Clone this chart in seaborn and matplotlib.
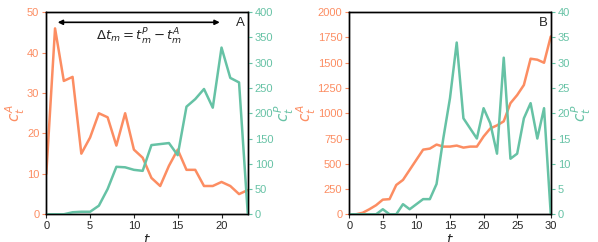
import numpy as np
import pandas as pd
import matplotlib
matplotlib.use("Agg")
import matplotlib.pyplot as plt
import seaborn as sns

sns.set_style("ticks")
plt.rcParams["font.family"] = ["Liberation Sans", "DejaVu Sans"]
plt.rcParams["mathtext.fontset"] = "dejavusans"

orange = "#fc8d62"
green = "#66c2a5"

# panel A
t_a = list(range(24))
ca_a = [10, 46, 33, 34, 15, 19, 25, 24, 17, 25, 16, 14, 9, 7, 12, 16,
        11, 11, 7, 7, 8, 7, 5, 6]
cp_a = [0, 0, 0, 4, 5, 5, 17, 50, 94, 93, 88, 86, 137, 139, 141, 117,
        213, 228, 248, 211, 330, 270, 261, 0]

# panel B
t_b = list(range(31))
ca_b = [0, 0, 15, 50, 90, 145, 150, 290, 340, 440, 540, 640, 650, 690, 670,
        670, 680, 660, 670, 670, 770, 850, 880, 920, 1100, 1180, 1280, 1540,
        1530, 1500, 1760]
cp_b = [0, 0, 0, 0, 0, 1, 0, 0, 2, 1, 2, 3, 3, 6, 15, 23, 34, 19, 17, 15,
        21, 18, 12, 31, 11, 12, 19, 22, 15, 21, 0]

panels = [
    ("A", t_a, ca_a, cp_a, 23, 50, 400, [0, 5, 10, 15, 20]),
    ("B", t_b, ca_b, cp_b, 30, 2000, 40, [0, 5, 10, 15, 20, 25, 30]),
]

fig = plt.figure(figsize=(5.98, 2.42), dpi=100)
lefts = [0.0774, 0.584]

for (lab, t, ca, cp, xmax, ya, yp, xt), left in zip(panels, lefts):
    ax = fig.add_axes([left, 0.1145, 0.337, 0.835])
    ax2 = ax.twinx()
    sns.lineplot(x=t, y=ca, ax=ax, color=orange, lw=1.8)
    sns.lineplot(x=t, y=cp, ax=ax2, color=green, lw=1.8)
    ax.set_xlim(0, xmax)
    ax.set_ylim(0, ya)
    ax2.set_ylim(0, yp)
    ax.set_xticks(xt)
    ax.set_xlabel("$t$", fontsize=10, labelpad=1)
    ax.set_ylabel("$c_t^A$", color=orange, fontsize=11, labelpad=0)
    ax2.set_ylabel("$c_t^P$", color=green, fontsize=11, labelpad=0)
    ax.tick_params(axis="y", colors=orange, labelsize=8, length=3, pad=2)
    ax.tick_params(axis="x", labelsize=8, length=3, pad=2)
    ax2.tick_params(axis="y", colors=green, labelsize=8, length=3, pad=2)
    for a in (ax, ax2):
        for s in a.spines.values():
            s.set_color("black")
            s.set_linewidth(1.0)
    ax.text(0.985, 0.975, lab, transform=ax.transAxes, ha="right", va="top",
            fontsize=9.5)
    if lab == "A":
        ax.annotate("", xy=(19.8, 47.5), xytext=(1.3, 47.5),
                    arrowprops=dict(arrowstyle="<|-|>", color="black", lw=1.2,
                                    mutation_scale=7, shrinkA=0, shrinkB=0))
        ax.text(10.6, 44.0, r"$\Delta t_m = t_m^P - t_m^A$", ha="center",
                va="center", fontsize=9.5)

fig.savefig("out.png", dpi=100)
